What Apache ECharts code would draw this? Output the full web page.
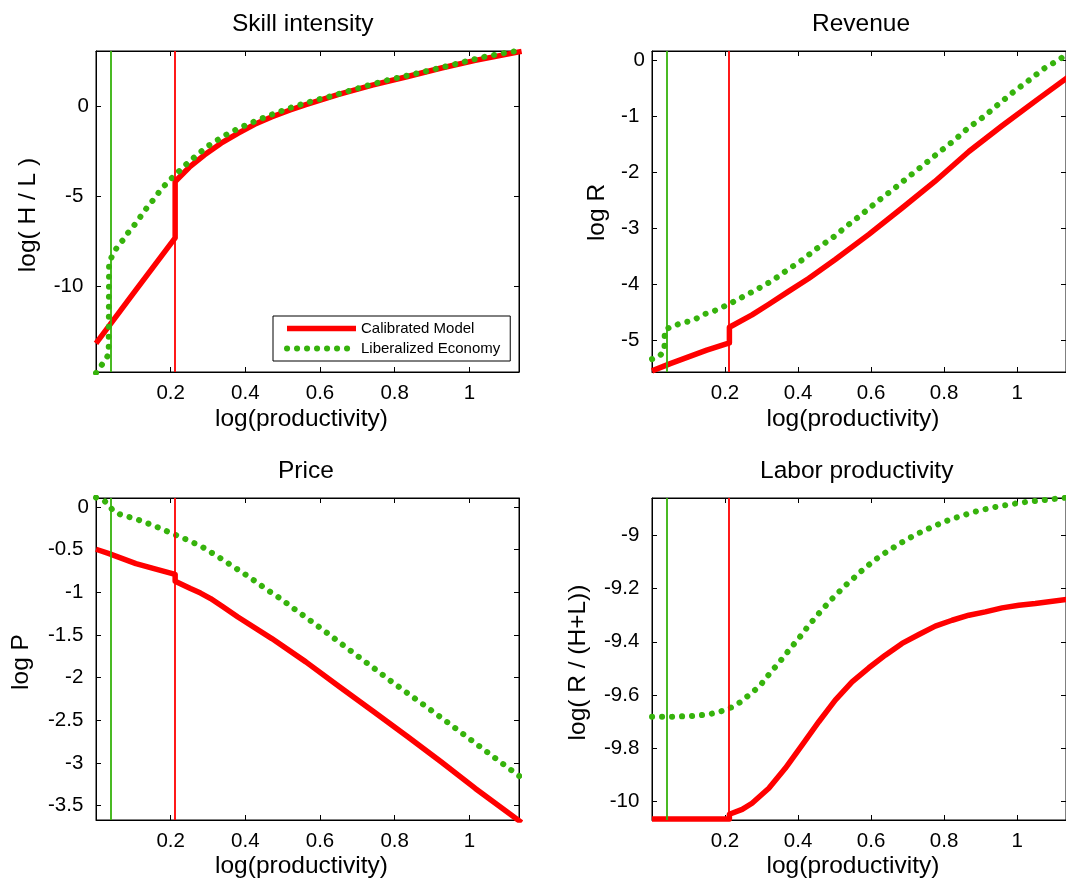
<!DOCTYPE html>
<html>
<head>
<meta charset="utf-8">
<script src="https://cdn.jsdelivr.net/npm/echarts@6/dist/echarts.min.js"></script>
<style>
html,body{margin:0;padding:0;background:#fff;}
#c{width:1066px;height:884px;}
</style>
</head>
<body>
<div id="c"></div>
<script>
// ---------------- data ----------------
const xTickValues = [0.2, 0.4, 0.6, 0.8, 1];
const skillTickValues = [-10, -5, 0];
const revenueTickValues = [-5, -4, -3, -2, -1, 0];
const priceTickValues = [-3.5, -3, -2.5, -2, -1.5, -1, -0.5, 0];
const laborTickValues = [-10, -9.8, -9.6, -9.4, -9.2, -9];

const thresholdCalibrated = 0.211;
const thresholdLiberalized = 0.035;

// Skill intensity
const skillCalX = [0, 0.05, 0.10, 0.15, 0.212, 0.212, 0.25, 0.29, 0.335, 0.38, 0.425, 0.47, 0.52, 0.56, 0.65, 0.74, 0.835, 0.925, 1.016, 1.14];
const skillCalY = [-13.2, -11.81, -10.42, -9.03, -7.32, -4.18, -3.38, -2.70, -2.04, -1.49, -0.99, -0.58, -0.19, 0.10, 0.68, 1.20, 1.68, 2.15, 2.58, 3.08];
const skillLibX = [0, 0.004, 0.015, 0.026, 0.034, 0.035, 0.047, 0.057, 0.071, 0.085, 0.098, 0.112, 0.125, 0.14, 0.157, 0.175, 0.198, 0.22, 0.24, 0.262, 0.298, 0.344, 0.386, 0.43, 0.48, 0.525, 0.575, 0.625, 0.68, 0.735, 0.78, 0.83, 0.88, 0.935, 0.989, 1.035, 1.089, 1.14];
const skillLibY = [-14.85, -14.72, -14.42, -14.09, -13.8, -8.64, -8.21, -7.81, -7.47, -7.06, -6.73, -6.36, -5.95, -5.54, -5.11, -4.59, -4.09, -3.65, -3.25, -2.85, -2.22, -1.62, -1.17, -0.78, -0.37, -0.04, 0.28, 0.56, 0.89, 1.22, 1.47, 1.71, 1.95, 2.23, 2.51, 2.75, 2.97, 3.15];

// Revenue
const revenueCalX = [0, 0.05, 0.10, 0.15, 0.212, 0.212, 0.274, 0.32, 0.374, 0.429, 0.502, 0.594, 0.685, 0.774, 0.868, 0.959, 1.06, 1.14];
const revenueCalY = [-5.55, -5.42, -5.30, -5.18, -5.05, -4.77, -4.55, -4.36, -4.13, -3.90, -3.56, -3.11, -2.64, -2.17, -1.63, -1.17, -0.68, -0.30];
const revenueLibX = [0, 0.0215, 0.034, 0.035, 0.053, 0.075, 0.098, 0.12, 0.142, 0.178, 0.2, 0.219, 0.242, 0.283, 0.329, 0.37, 0.411, 0.452, 0.493, 0.534, 0.575, 0.616, 0.658, 0.703, 0.744, 0.783, 0.826, 0.866, 0.908, 0.95, 0.991, 1.032, 1.073, 1.112, 1.14];
const revenueLibY = [-5.34, -5.28, -5.18, -4.82, -4.76, -4.71, -4.67, -4.62, -4.54, -4.46, -4.39, -4.33, -4.25, -4.11, -3.94, -3.75, -3.57, -3.36, -3.18, -2.96, -2.75, -2.53, -2.32, -2.08, -1.87, -1.66, -1.44, -1.21, -1.01, -0.78, -0.56, -0.36, -0.15, 0.0, 0.12];

// Price
const priceCalX = [0, 0.035, 0.107, 0.153, 0.212, 0.212, 0.253, 0.28, 0.307, 0.34, 0.38, 0.471, 0.562, 0.653, 0.744, 0.835, 0.925, 1.016, 1.14];
const priceCalY = [-0.496, -0.547, -0.664, -0.72, -0.79, -0.87, -0.957, -1.01, -1.074, -1.17, -1.29, -1.543, -1.816, -2.11, -2.40, -2.695, -2.99, -3.30, -3.70];
const priceLibX = [0, 0.021, 0.0345, 0.046, 0.066, 0.112, 0.157, 0.198, 0.241, 0.285, 0.328, 0.369, 0.41, 0.453, 0.494, 0.536, 0.578, 0.621, 0.662, 0.705, 0.748, 0.789, 0.832, 0.874, 0.916, 0.959, 1.001, 1.044, 1.086, 1.127, 1.14];
const priceLibY = [0.11, 0.078, 0.02, -0.047, -0.09, -0.148, -0.223, -0.30, -0.379, -0.469, -0.586, -0.703, -0.82, -0.955, -1.074, -1.211, -1.345, -1.484, -1.62, -1.762, -1.902, -2.039, -2.176, -2.308, -2.443, -2.582, -2.72, -2.862, -3.0, -3.133, -3.175];

// Labor productivity
const laborCalX = [0, 0.212, 0.212, 0.247, 0.274, 0.32, 0.365, 0.411, 0.457, 0.502, 0.548, 0.594, 0.639, 0.685, 0.731, 0.776, 0.822, 0.868, 0.913, 0.959, 1.005, 1.05, 1.14];
const laborCalY = [-10.065, -10.065, -10.0475, -10.029, -10.006, -9.95, -9.875, -9.7875, -9.70, -9.619, -9.55, -9.4975, -9.45, -9.406, -9.3725, -9.341, -9.319, -9.30, -9.2875, -9.2725, -9.2625, -9.256, -9.24];
const laborLibX = [0, 0.055, 0.105, 0.131, 0.155, 0.178, 0.201, 0.221, 0.239, 0.26, 0.279, 0.297, 0.313, 0.329, 0.347, 0.363, 0.379, 0.395, 0.411, 0.427, 0.445, 0.461, 0.479, 0.495, 0.514, 0.534, 0.553, 0.571, 0.592, 0.612, 0.635, 0.658, 0.68, 0.703, 0.726, 0.749, 0.772, 0.799, 0.822, 0.849, 0.875, 0.9, 0.925, 0.95, 0.975, 1.002, 1.03, 1.057, 1.084, 1.112, 1.14];
const laborLibY = [-9.681, -9.681, -9.679, -9.676, -9.6725, -9.665, -9.656, -9.644, -9.629, -9.606, -9.585, -9.5625, -9.535, -9.508, -9.48, -9.452, -9.425, -9.398, -9.372, -9.342, -9.313, -9.287, -9.26, -9.236, -9.21, -9.183, -9.16, -9.137, -9.113, -9.091, -9.069, -9.049, -9.03, -9.012, -8.995, -8.98, -8.966, -8.95, -8.938, -8.927, -8.915, -8.906, -8.898, -8.891, -8.886, -8.879, -8.874, -8.87, -8.866, -8.862, -8.858];

// ---------------- layout / style ----------------
const FONT = '"Liberation Sans", Arial, Helvetica, sans-serif';
const RED = '#ff0000';
const GREEN = '#36b30c';
const BLACK = '#000000';

const panels = [
  { title: 'Skill intensity', titleLeft: 232, titleTop: 12, yName: 'log( H / L )',
    grid: { left: 96, top: 51, width: 423, height: 321 }, xMax: 1.133,
    yMin: -14.8, yMax: 3.1, yTicks: skillTickValues, xGap: 35, yGap: 55, yPad: [0, 7, 0, 0],
    cal: [skillCalX, skillCalY], lib: [skillLibX, skillLibY] },
  { title: 'Revenue', titleLeft: 812, titleTop: 12, yName: 'log R',
    grid: { left: 652, top: 51, width: 422, height: 321 }, xMax: 1.134,
    yMin: -5.57, yMax: 0.166, yTicks: revenueTickValues, xGap: 35, yGap: 42, yPad: [0, 2, 0, 0],
    cal: [revenueCalX, revenueCalY], lib: [revenueLibX, revenueLibY] },
  { title: 'Price', titleLeft: 278, titleTop: 459, yName: 'log P',
    grid: { left: 96, top: 498, width: 423, height: 322 }, xMax: 1.133,
    yMin: -3.67, yMax: 0.105, yTicks: priceTickValues, xGap: 34, yGap: 62, yPad: [0, 6, 0, 0],
    cal: [priceCalX, priceCalY], lib: [priceLibX, priceLibY] },
  { title: 'Labor productivity', titleLeft: 760, titleTop: 459, yName: 'log( R / (H+L))',
    grid: { left: 652, top: 498, width: 422, height: 322 }, xMax: 1.134,
    yMin: -10.069, yMax: -8.86, yTicks: laborTickValues, xGap: 34, yGap: 61, yPad: [0, 7, 0, 0],
    cal: [laborCalX, laborCalY], lib: [laborLibX, laborLibY] }
];

function zip(xs, ys) { return xs.map((x, i) => [x, ys[i]]); }

const grids = [], xAxes = [], yAxes = [], series = [], titles = [];

panels.forEach((p, i) => {
  grids.push(Object.assign({ show: true, borderColor: BLACK, borderWidth: 1, backgroundColor: 'transparent', containLabel: false }, p.grid));
  titles.push({ text: p.title, left: p.titleLeft, top: p.titleTop, padding: 0,
    textStyle: { fontFamily: FONT, fontSize: 24.5, fontWeight: 'normal', color: BLACK } });

  const tickStyle = { show: true, inside: true, length: 5, lineStyle: { color: BLACK, width: 1 } };
  const lineStyle = { show: true, onZero: false, lineStyle: { color: BLACK, width: 1 } };

  // bottom x
  xAxes.push({ type: 'value', gridIndex: i, position: 'bottom', min: 0, max: p.xMax,
    axisLine: lineStyle, splitLine: { show: false },
    axisTick: Object.assign({ customValues: xTickValues }, tickStyle),
    axisLabel: { show: true, margin: 11, color: BLACK, fontSize: 20.5, fontFamily: FONT, customValues: xTickValues },
    name: 'log(productivity)', nameLocation: 'middle', nameGap: p.xGap,
    nameTextStyle: { fontFamily: FONT, fontSize: 24.5, color: BLACK, padding: [0, 12, 0, 0] } });
  // top mirror x
  xAxes.push({ type: 'value', gridIndex: i, position: 'top', min: 0, max: p.xMax,
    axisLine: lineStyle, splitLine: { show: false },
    axisTick: Object.assign({ customValues: xTickValues }, tickStyle),
    axisLabel: { show: false, customValues: xTickValues } });
  // left y
  yAxes.push({ type: 'value', gridIndex: i, position: 'left', min: p.yMin, max: p.yMax,
    axisLine: lineStyle, splitLine: { show: false },
    axisTick: Object.assign({ customValues: p.yTicks }, tickStyle),
    axisLabel: { show: true, margin: 7, color: BLACK, fontSize: 20.5, fontFamily: FONT, customValues: p.yTicks,
      formatter: v => (v < 0 ? String(v) + ' ' : String(v)) },
    name: p.yName, nameLocation: 'middle', nameGap: p.yGap,
    nameTextStyle: { fontFamily: FONT, fontSize: 24.5, color: BLACK, padding: p.yPad } });
  // right mirror y
  yAxes.push({ type: 'value', gridIndex: i, position: 'right', min: p.yMin, max: p.yMax,
    axisLine: lineStyle, splitLine: { show: false },
    axisTick: Object.assign({ customValues: p.yTicks }, tickStyle),
    axisLabel: { show: false, customValues: p.yTicks } });

  series.push({
    name: 'Calibrated Model', type: 'line', xAxisIndex: 2 * i, yAxisIndex: 2 * i,
    data: zip(p.cal[0], p.cal[1]), symbol: 'none', clip: true, z: 3,
    lineStyle: { color: RED, width: 5.5, cap: 'butt', join: 'round' }, itemStyle: { color: RED },
    emphasis: { disabled: true },
    markLine: { silent: true, symbol: ['none', 'none'], label: { show: false }, animation: false,
      lineStyle: { color: RED, width: 1.8, type: 'solid' }, emphasis: { disabled: true },
      data: [{ xAxis: thresholdCalibrated }] }
  });
  series.push({
    name: 'Liberalized Economy', type: 'line', xAxisIndex: 2 * i, yAxisIndex: 2 * i,
    data: zip(p.lib[0], p.lib[1]), symbol: 'none', clip: true, z: 4,
    lineStyle: { color: GREEN, width: 6, type: [0.1, 9.9], cap: 'round', join: 'round' }, itemStyle: { color: GREEN },
    emphasis: { disabled: true },
    markLine: { silent: true, symbol: ['none', 'none'], label: { show: false }, animation: false,
      lineStyle: { color: GREEN, width: 1.8, type: 'solid', cap: 'butt' }, emphasis: { disabled: true },
      data: [{ xAxis: thresholdLiberalized }] }
  });
});

const chart = echarts.init(document.getElementById('c'), null, { renderer: 'canvas', width: 1066, height: 884 });
chart.setOption({
  animation: false,
  backgroundColor: '#ffffff',
  textStyle: { fontFamily: FONT },
  title: titles,
  grid: grids,
  xAxis: xAxes,
  yAxis: yAxes,
  legend: {
    data: ['Calibrated Model', 'Liberalized Economy'],
    orient: 'vertical', left: 273, top: 316, padding: [5, 10, 5, 11],
    itemGap: 5, itemWidth: 69, itemHeight: 14,
    borderColor: BLACK, borderWidth: 1, borderRadius: 0, backgroundColor: '#ffffff',
    selectedMode: false,
    itemStyle: { color: 'rgba(0,0,0,0)', borderColor: 'rgba(0,0,0,0)', borderWidth: 0 },
    lineStyle: { width: 'inherit' },
    textStyle: { fontFamily: FONT, fontSize: 15, color: BLACK }
  },
  series: series
});
</script>
</body>
</html>
